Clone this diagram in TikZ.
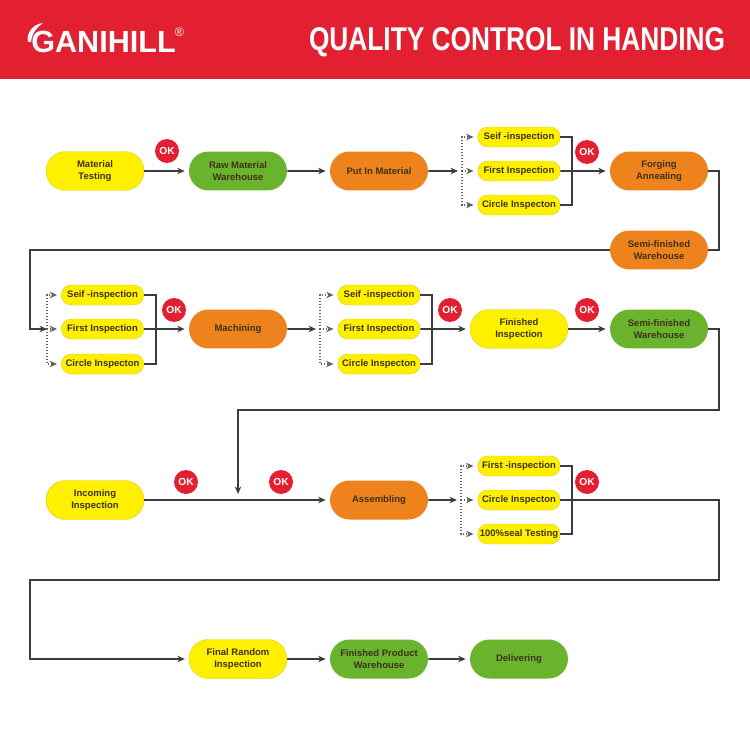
\documentclass[tikz,border=0pt]{standalone}
\usepackage{fontspec}
\setmainfont{Liberation Sans}
\newfontfamily\headfont[FakeStretch=0.80]{Liberation Sans}
\usetikzlibrary{arrows.meta,shapes.misc}
\definecolor{figRed}{RGB}{227,32,49}
\definecolor{figY}{RGB}{255,240,0}
\definecolor{figG}{RGB}{106,180,45}
\definecolor{figO}{RGB}{238,130,28}
\definecolor{figK}{RGB}{60,60,60}
\definecolor{figT}{RGB}{62,50,20}

\begin{document}
\begin{tikzpicture}[x=0.02cm,y=-0.02cm,>={Stealth[length=1.5mm,width=1.3mm]},
  pill/.style={rounded rectangle,minimum width=1.96cm,minimum height=0.78cm,inner sep=0pt,align=center,
    text=figT,font=\fontsize{5.4}{6.7}\selectfont\bfseries},
  ypill/.style={pill,fill=figY,draw=figY!85!black,line width=0.2pt},
  gpill/.style={pill,fill=figG},
  opill/.style={pill,fill=figO},
  chk/.style={rounded rectangle,minimum width=1.65cm,minimum height=0.4cm,inner sep=0pt,
    fill=figY,draw=figY!85!black,line width=0.2pt,text=figT,font=\fontsize{5.4}{6.6}\selectfont\bfseries},
  okbadge/.style={circle,fill=figRed,minimum size=0.48cm,inner sep=0pt,text=white,font=\fontsize{5.8}{7}\selectfont\bfseries},
  wire/.style={figK,line width=1.1pt},
  flow/.style={wire,->,shorten >=0.8mm},
  dots/.style={figK!80,densely dotted,line width=0.7pt},
  dotflow/.style={dots,->,shorten >=0.08cm}]
\useasboundingbox (0,0) rectangle (750,750);
% header band
\fill[figRed] (0,0) rectangle (750,79);
\fill[white] (28,42) .. controls (26,33) and (33,24) .. (43,23) .. controls (37,27) and (32,33) .. (31,42) -- cycle;
\node[anchor=base west,inner sep=0pt,text=white,font=\fontsize{17.4}{18}\selectfont\bfseries] (logo) at (31,53) {GANIHILL};
\node[inner sep=0pt,text=white,font=\fontsize{7}{7}\selectfont] (reg) at (179.5,32) {®};
\node[anchor=east,inner sep=0pt,text=white,font=\headfont\fontsize{18.7}{20}\selectfont\bfseries] (title) at (725.5,42) {QUALITY CONTROL IN HANDING};
% row 1
\node[ypill] (mat) at (95,171) {Material\\Testing};
\node[gpill] (raw) at (238,171) {Raw Material\\Warehouse};
\node[opill] (put) at (379,171) {Put In Material};
\node[chk] (a1) at (519,137) {Seif -inspection};
\node[chk] (a2) at (519,171) {First Inspection};
\node[chk] (a3) at (519,205) {Circle Inspecton};
\node[opill] (forge) at (659,171) {Forging\\Annealing};
\node[opill] (semi) at (659,250) {Semi-finished\\Warehouse};
% row 2
\node[chk] (b1) at (102.5,295) {Seif -inspection};
\node[chk] (b2) at (102.5,329) {First Inspection};
\node[chk] (b3) at (102.5,364) {Circle Inspecton};
\node[opill] (mach) at (238,329) {Machining};
\node[chk] (c1) at (379,295) {Seif -inspection};
\node[chk] (c2) at (379,329) {First Inspection};
\node[chk] (c3) at (379,364) {Circle Inspecton};
\node[ypill] (fin) at (519,329) {Finished\\Inspection};
\node[gpill] (semig) at (659,329) {Semi-finished\\Warehouse};
% row 3
\node[ypill] (inc) at (95,500) {Incoming\\Inspection};
\node[opill] (asm) at (379,500) {Assembling};
\node[chk] (d1) at (519,466) {First -inspection};
\node[chk] (d2) at (519,500) {Circle Inspecton};
\node[chk] (d3) at (519,534) {100\%seal Testing};
% row 4
\node[ypill] (rnd) at (238,659) {Final Random\\Inspection};
\node[gpill] (prod) at (379,659) {Finished Product\\Warehouse};
\node[gpill] (deliv) at (519,659) {Delivering};
% free ends of the connectors
\coordinate (fork1) at (462,171);
\coordinate (fork2) at (47,329);
\coordinate (fork3) at (320,329);
\coordinate (fork4) at (461,500);
\coordinate (drop) at (238,494);
% straight flow
\draw[flow] (mat) -- (raw);
\draw[flow] (raw) -- (put);
\draw[flow] (put) -- (fork1);
\draw[flow] (a2) -- (forge);
\draw[flow] (b2) -- (mach);
\draw[flow] (mach) -- (fork3);
\draw[flow] (c2) -- (fin);
\draw[flow] (fin) -- (semig);
\draw[flow] (inc) -- (asm);
\draw[flow] (asm) -- (fork4);
\draw[flow] (rnd) -- (prod);
\draw[flow] (prod) -- (deliv);
% returns between rows
\draw[wire] (forge.east) -- ++(11,0) |- (semi.east);
\draw[flow,shorten >=0pt] (semi.west) -| (30,329) -- (fork2);
\draw[wire,->] (semig.east) -- ++(11,0) |- (238,410) -- (drop);
\draw[flow] (d2.east) -| (719,580) -| (30,659) -- (rnd.west);
% brackets behind each group
\foreach \top/\bot in {a1/a3,b1/b3,c1/c3,d1/d3}
  \draw[wire] (\top.east) -- ++(12,0) |- (\bot.east);
% dotted forks
\foreach \fk/\top/\mid/\bot in {fork1/a1/a2/a3,fork2/b1/b2/b3,fork3/c1/c2/c3,fork4/d1/d2/d3} {
  \draw[dotflow] (\fk) |- (\top.west);
  \draw[dotflow] (\fk) -- (\mid.west);
  \draw[dotflow] (\fk) |- (\bot.west);
}
% OK badges
\foreach \n/\xx/\yy in {1/167/151,2/587/152,3/174/310,4/450/310,5/587/310,6/186/482,7/281/482,8/587/482}
  \node[okbadge] (ok\n) at (\xx,\yy) {OK};
\end{tikzpicture}
\end{document}
